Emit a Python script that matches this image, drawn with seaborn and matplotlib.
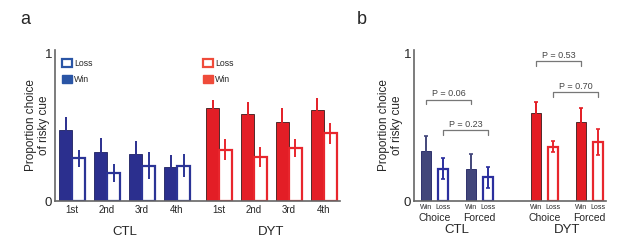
import pandas as pd
import seaborn as sns
import matplotlib.pyplot as plt
from matplotlib.patches import Patch
from matplotlib.legend import Legend

sns.set_style("white")
plt.rcParams["font.family"] = ["Liberation Sans", "DejaVu Sans"]

# --- panel a: trial-by-trial after win / loss ---
TRIALS = ["1st", "2nd", "3rd", "4th"]
A_CTL_WIN = [0.48, 0.33, 0.32, 0.23]
A_CTL_WIN_ERR = [0.09, 0.10, 0.09, 0.08]
A_CTL_LOSS = [0.29, 0.19, 0.24, 0.24]
A_CTL_LOSS_ERR = [0.06, 0.06, 0.09, 0.08]
A_DYT_WIN = [0.63, 0.59, 0.54, 0.62]
A_DYT_WIN_ERR = [0.06, 0.08, 0.09, 0.08]
A_DYT_LOSS = [0.35, 0.30, 0.36, 0.46]
A_DYT_LOSS_ERR = [0.07, 0.07, 0.06, 0.07]

# --- panel b: choice vs forced trials ---
CONDITIONS = ["Choice", "Forced"]
B_CTL_WIN = [0.34, 0.22]
B_CTL_WIN_ERR = [0.10, 0.10]
B_CTL_LOSS = [0.22, 0.16]
B_CTL_LOSS_ERR = [0.07, 0.07]
B_DYT_WIN = [0.60, 0.54]
B_DYT_WIN_ERR = [0.07, 0.09]
B_DYT_LOSS = [0.37, 0.40]
B_DYT_LOSS_ERR = [0.04, 0.09]

P_LABELS = ["P = 0.06", "P = 0.23", "P = 0.53", "P = 0.70"]
P_GROUPS = ["CTL", "CTL", "DYT", "DYT"]
P_OUTCOMES = ["Win", "Loss", "Win", "Loss"]
P_HEIGHTS = [0.69, 0.48, 0.95, 0.74]

GROUPS = ["CTL", "DYT"]
A_COLORS = {"CTL": ("#2b2f8e", "#2b3496"), "DYT": ("#e31e26", "#e8262d")}
B_COLORS = {"CTL": ("#42467a", "#2b2f9e"), "DYT": ("#e31b23", "#e8262d")}
LEG_COLORS = {"CTL": "#2a55a5", "DYT": "#ef4b3a"}
SPINE = "#666666"


def build_df(labels, series, offsets):
    rows = []
    for g, off in zip(GROUPS, offsets):
        for outcome in ["Win", "Loss"]:
            vals, errs = series[(g, outcome)]
            for i, lab in enumerate(labels):
                rows.append(dict(group=g, label=lab, outcome=outcome,
                                 value=vals[i], err=errs[i], pos=off + i * offsets[2]))
    return pd.DataFrame(rows)


df_a = build_df(TRIALS, {("CTL", "Win"): (A_CTL_WIN, A_CTL_WIN_ERR),
                         ("CTL", "Loss"): (A_CTL_LOSS, A_CTL_LOSS_ERR),
                         ("DYT", "Win"): (A_DYT_WIN, A_DYT_WIN_ERR),
                         ("DYT", "Loss"): (A_DYT_LOSS, A_DYT_LOSS_ERR)}, (0, 4.2, 1.0))
df_b = build_df(CONDITIONS, {("CTL", "Win"): (B_CTL_WIN, B_CTL_WIN_ERR),
                             ("CTL", "Loss"): (B_CTL_LOSS, B_CTL_LOSS_ERR),
                             ("DYT", "Win"): (B_DYT_WIN, B_DYT_WIN_ERR),
                             ("DYT", "Loss"): (B_DYT_LOSS, B_DYT_LOSS_ERR)}, (0, 2.45, 1.0))


def draw_bars(ax, df, colors, width, gap, capsize):
    sns.barplot(data=df, x="pos", y="value", hue="outcome", hue_order=["Win", "Loss"],
                native_scale=True, width=width, gap=gap, errorbar=None, legend=False, ax=ax)
    centers = {}
    for cont, outcome in zip(ax.containers, ["Win", "Loss"]):
        sub = df[df["outcome"] == outcome].sort_values("pos")
        for bar, (_, row) in zip(cont, sub.iterrows()):
            fill, edge = colors[row["group"]]
            if outcome == "Win":
                bar.set_facecolor(fill)
                bar.set_edgecolor("#3a1a1a" if row["group"] == "DYT" else "#1d2060")
                bar.set_linewidth(0.6)
                ecol = fill
            else:
                bar.set_facecolor("white")
                bar.set_edgecolor(edge)
                bar.set_linewidth(1.6)
                ecol = edge
            cx = bar.get_x() + bar.get_width() / 2
            centers[(row["group"], row["label"], outcome)] = cx
            ax.errorbar(cx, row["value"], yerr=row["err"], color=ecol, lw=1.4,
                        capsize=capsize, capthick=1.2, zorder=3)
    return centers


def style_axis(ax, xlim):
    sns.despine(ax=ax)
    for s in ["left", "bottom"]:
        ax.spines[s].set_color(SPINE)
        ax.spines[s].set_linewidth(1.2)
    ax.set_ylim(0, 1.027)
    ax.set_xlim(*xlim)
    ax.set_yticks([0, 1], ["0", "1"], fontsize=9.5)
    ax.tick_params(axis="both", length=0)
    ax.tick_params(axis="y", pad=2)
    ax.set_xlabel("")
    ax.set_ylabel("Proportion choice\nof risky cue", fontsize=8.5, linespacing=1.1)


fig = plt.figure(figsize=(6.17, 2.48), dpi=100)
ax_a = fig.add_axes([55 / 617, 47 / 248, 285 / 617, 151 / 248])
ax_b = fig.add_axes([414 / 617, 47 / 248, 192 / 617, 151 / 248])

# panel a
draw_bars(ax_a, df_a, A_COLORS, width=0.74, gap=0, capsize=0)
style_axis(ax_a, (-0.49, 7.66))
tick_pos = sorted(df_a["pos"].unique())
ax_a.set_xticks(tick_pos, TRIALS * 2, fontsize=7)
ax_a.tick_params(axis="x", pad=3)
ax_a.yaxis.set_label_coords(-0.018, 0.5)
for g in GROUPS:
    gx = df_a.loc[df_a["group"] == g, "pos"].mean()
    ax_a.text(gx, -0.205, g, transform=ax_a.get_xaxis_transform(), ha="center", va="center", fontsize=9.5)
for g, lx in zip(GROUPS, [0.025, 0.52]):
    c = LEG_COLORS[g]
    handles = [Patch(facecolor="white", edgecolor=c, lw=1.6, label="Loss"),
               Patch(facecolor=c, edgecolor=c, label="Win")]
    leg = Legend(ax_a, handles, ["Loss", "Win"], loc="upper left", bbox_to_anchor=(lx, 0.94),
                 frameon=False, fontsize=6.3, handlelength=1.1, handleheight=1.1,
                 handletextpad=0.3, labelspacing=0.75, borderaxespad=0, borderpad=0)
    ax_a.add_artist(leg)

# panel b
centers_b = draw_bars(ax_b, df_b, B_COLORS, width=0.76, gap=0.4, capsize=1.6)
style_axis(ax_b, (-0.455, 3.81))
bar_x = sorted(centers_b.values())
ax_b.set_xticks(bar_x, ["Win", "Loss"] * 4, fontsize=5)
ax_b.tick_params(axis="x", pad=2)
ax_b.yaxis.set_label_coords(-0.058, 0.5)
for _, row in df_b[df_b["outcome"] == "Win"].iterrows():
    ax_b.text(row["pos"], -0.115, row["label"], transform=ax_b.get_xaxis_transform(),
              ha="center", va="center", fontsize=7.5)
for g in GROUPS:
    gx = df_b.loc[df_b["group"] == g, "pos"].mean()
    ax_b.text(gx, -0.19, g, transform=ax_b.get_xaxis_transform(), ha="center", va="center", fontsize=9.5)
for lab, g, outcome, h in zip(P_LABELS, P_GROUPS, P_OUTCOMES, P_HEIGHTS):
    x1 = centers_b[(g, "Choice", outcome)]
    x2 = centers_b[(g, "Forced", outcome)]
    ax_b.plot([x1, x1, x2, x2], [h - 0.03, h, h, h - 0.03], color="#777777", lw=0.9)
    ax_b.text((x1 + x2) / 2, h + 0.008, lab, ha="center", va="bottom", fontsize=6.5, color="#444444")

fig.text(25 / 617, 1 - 20 / 248, "a", fontsize=13, ha="center", va="center")
fig.text(362 / 617, 1 - 20 / 248, "b", fontsize=13, ha="center", va="center")

fig.savefig("out.png", dpi=100)
